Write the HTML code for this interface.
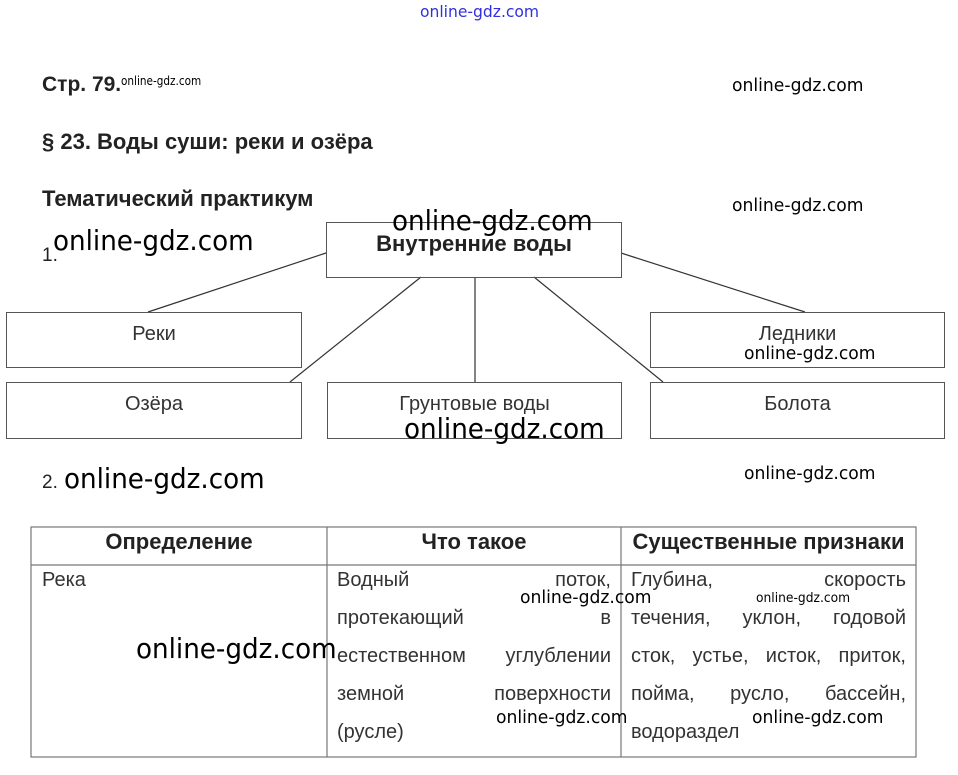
<!DOCTYPE html>
<html><head><meta charset="utf-8"><style>
body{margin:0;width:958px;height:775px;background:#fff;position:relative;overflow:hidden;font-family:"Liberation Sans",sans-serif;color:#222}
.a{position:absolute;white-space:nowrap}
.b{font-weight:bold;font-size:22px}
.w{position:absolute;white-space:nowrap;font-family:"DejaVu Sans Condensed","DejaVu Sans",sans-serif;color:#000;transform-origin:0 0}
.L{font-size:28px;transform:scaleX(1.04)}
.M{font-size:18px;transform:scaleX(1.06)}
.box{position:absolute;border:1px solid #555;box-sizing:border-box;text-align:center;font-size:20px;color:#333}
.j{position:absolute;font-size:20px;color:#333;text-align:justify;text-align-last:justify;white-space:nowrap}
</style></head><body>
<div class="w" style="left:420px;top:2px;font-size:16px;color:#3030e0;transform:scaleX(1.08)">online-gdz.com</div>
<div class="a b" style="left:42px;top:73px;font-size:21px">Стр. 79.</div>
<div class="w" style="left:121px;top:74px;font-size:12px;transform:scaleX(0.97)">online-gdz.com</div>
<div class="w M" style="left:732px;top:75px">online-gdz.com</div>
<div class="a b" style="left:42px;top:129px">§ 23. Воды суши: реки и озёра</div>
<div class="a b" style="left:42px;top:186px">Тематический практикум</div>
<div class="w M" style="left:732px;top:195px">online-gdz.com</div>
<div class="a" style="left:42px;top:245px;font-size:19px">1.</div>
<svg style="position:absolute;left:0;top:0" width="958" height="775"><g stroke="#333" stroke-width="1.2">
<line x1="326" y1="253" x2="148" y2="312"/><line x1="621" y1="253" x2="805" y2="312"/>
<line x1="421" y1="277" x2="290" y2="382"/><line x1="475" y1="277" x2="475" y2="382"/><line x1="534" y1="277" x2="663" y2="382"/></g></svg>
<div class="box" style="left:326px;top:222px;width:296px;height:56px;font-weight:bold;font-size:22px;padding-top:8px;color:#222">Внутренние воды</div>
<div class="box" style="left:6px;top:312px;width:296px;height:56px;padding-top:10px">Реки</div>
<div class="box" style="left:650px;top:312px;width:295px;height:56px;padding-top:10px">Ледники</div>
<div class="box" style="left:6px;top:382px;width:296px;height:57px;padding-top:10px">Озёра</div>
<div class="box" style="left:327px;top:382px;width:295px;height:57px;padding-top:10px">Грунтовые воды</div>
<div class="box" style="left:650px;top:382px;width:295px;height:57px;padding-top:10px">Болота</div>
<div class="w L" style="left:392px;top:204px">online-gdz.com</div>
<div class="w L" style="left:53px;top:224px">online-gdz.com</div>
<div class="w M" style="left:744px;top:343px">online-gdz.com</div>
<div class="w L" style="left:404px;top:412px">online-gdz.com</div>
<div class="a" style="left:42px;top:472px;font-size:19px">2.</div>
<div class="w L" style="left:64px;top:462px">online-gdz.com</div>
<div class="w M" style="left:744px;top:463px">online-gdz.com</div>
<svg style="position:absolute;left:0;top:0" width="958" height="775"><g stroke="#777" stroke-width="1.2" fill="none">
<rect x="31" y="527" width="885" height="230"/><line x1="31" y1="565" x2="916" y2="565"/>
<line x1="327" y1="527" x2="327" y2="757"/><line x1="621" y1="527" x2="621" y2="757"/></g></svg>
<div class="a b" style="left:31px;top:529px;width:296px;text-align:center">Определение</div>
<div class="a b" style="left:327px;top:529px;width:294px;text-align:center">Что такое</div>
<div class="a b" style="left:621px;top:529px;width:295px;text-align:center">Существенные признаки</div>
<div class="j" style="left:42px;top:569px;color:#333">Река</div>
<div class="j" style="left:337px;top:569px;width:274px">Водный поток,</div>
<div class="j" style="left:337px;top:607px;width:274px">протекающий в</div>
<div class="j" style="left:337px;top:645px;width:274px">естественном углублении</div>
<div class="j" style="left:337px;top:683px;width:274px">земной поверхности</div>
<div class="a" style="left:337px;top:721px;font-size:20px;color:#333">(русле)</div>
<div class="j" style="left:631px;top:569px;width:275px">Глубина, скорость</div>
<div class="j" style="left:631px;top:607px;width:275px">течения, уклон, годовой</div>
<div class="j" style="left:631px;top:645px;width:275px">сток, устье, исток, приток,</div>
<div class="j" style="left:631px;top:683px;width:275px">пойма, русло, бассейн,</div>
<div class="a" style="left:631px;top:721px;font-size:20px;color:#333">водораздел</div>
<div class="w M" style="left:520px;top:587px">online-gdz.com</div>
<div class="w" style="left:756px;top:591px;font-size:13px;transform:scaleX(1.05)">online-gdz.com</div>
<div class="w L" style="left:136px;top:632px">online-gdz.com</div>
<div class="w M" style="left:496px;top:707px">online-gdz.com</div>
<div class="w M" style="left:752px;top:707px">online-gdz.com</div>
</body></html>
